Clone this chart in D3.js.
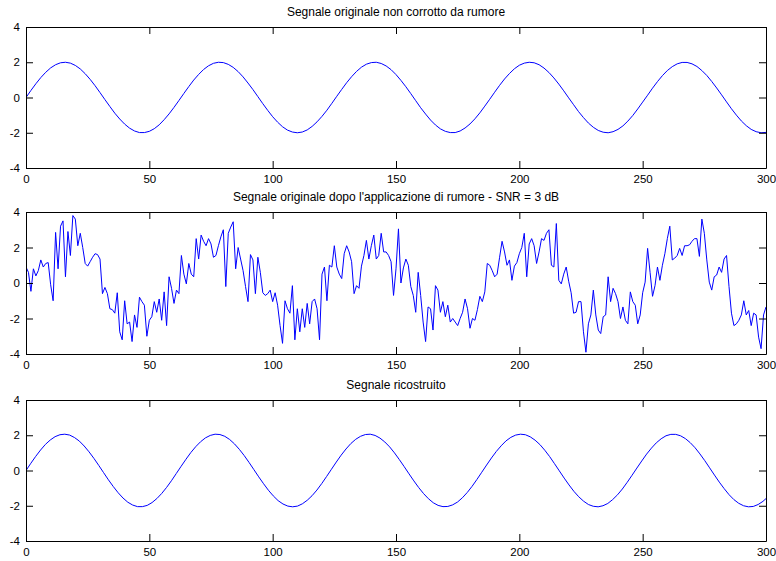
<!DOCTYPE html>
<html><head><meta charset="utf-8">
<script src="https://cdn.jsdelivr.net/npm/d3@7"></script>
<style>
body{margin:0;background:#fff}
svg{display:block}
text{font-family:"Liberation Sans",Arial,Helvetica,sans-serif}
</style>
</head><body><svg id="c" width="776" height="561"></svg>
<script>
// ---- data ----
const xTicks = [0, 50, 100, 150, 200, 250, 300];
const yTicks = [-4, -2, 0, 2, 4];
const titles = [
  "Segnale originale non corrotto da rumore",
  "Segnale originale dopo l'applicazione di rumore - SNR = 3 dB",
  "Segnale ricostruito"
];
// original clean signal, one sample every 2 units of x
const originalStep = 2;
const original = [
  0.00,0.40,0.78,1.13,1.43,1.68,1.86,1.97,2.00,1.95,1.82,1.62,1.35,1.03,0.67,0.28,-0.12,-0.51,-0.89,-1.22,-1.51,-1.74,-1.90,-1.99,-1.99,-1.92,-1.77,-1.55,-1.26,-0.93,-0.56,-0.17,
  0.23,0.62,0.99,1.31,1.59,1.80,1.94,2.00,1.98,1.88,1.71,1.47,1.17,0.82,0.45,0.05,-0.35,-0.73,-1.09,-1.40,-1.66,-1.85,-1.96,-2.00,-1.96,-1.84,-1.64,-1.38,-1.07,-0.72,-0.33,
  0.07,0.46,0.84,1.18,1.48,1.72,1.89,1.98,2.00,1.93,1.79,1.58,1.30,0.97,0.61,0.22,-0.18,-0.58,-0.94,-1.28,-1.56,-1.78,-1.92,-1.99,-1.99,-1.90,-1.73,-1.50,-1.21,-0.87,-0.49,-0.10,
  0.30,0.69,1.05,1.36,1.63,1.83,1.95,2.00,1.97,1.86,1.67,1.42,1.11,0.76,0.38,-0.02,-0.41,-0.80,-1.14,-1.45,-1.69,-1.87,-1.97,-2.00,-1.94,-1.81,-1.61,-1.34,-1.02,-0.65,-0.26,
  0.13,0.53,0.90,1.24,1.53,1.75,1.91,1.99,1.99,1.91,1.76,1.53,1.25,0.91,0.54,0.15,-0.25,-0.64,-1.00,-1.33,-1.60,-1.81,-1.94,-2.00,-1.98
];
// noisy signal, one sample per unit of x
const noisyStep = 1;
const noisy = [
  0.9,0.6,-0.47,0.8,0.4,0.7,1.3,0.9,1.1,1.15,
  -0.1,-1.0,2.85,0.8,3.2,3.5,0.35,2.9,1.55,3.8,
  3.6,2.1,2.8,2.0,1.1,0.95,1.2,1.45,1.65,1.6,
  1.35,-0.6,-0.25,-0.6,-1.45,-1.5,-1.7,-0.55,-2.75,-3.2,
  -1.0,-2.3,-2.2,-3.3,-1.8,-2.5,-0.8,-1.05,-1.25,-3.0,
  -2.1,-1.9,-1.05,-1.65,-0.9,-2.1,-0.5,-2.4,0.35,-0.3,
  -1.15,-0.4,-0.6,1.55,0.5,-0.05,1.1,0.5,0.35,2.5,
  1.35,2.7,2.35,2.1,2.5,2.2,1.45,1.55,2.1,2.6,
  3.0,-0.2,2.8,3.15,3.45,0.8,2.0,1.35,0.7,-0.2,
  -1.05,1.6,1.3,-0.6,1.45,0.6,-0.55,-0.7,-0.6,-0.4,
  -1.05,-0.55,-1.25,-2.4,-3.4,-1.0,-1.45,-1.7,-0.15,-3.2,
  -1.45,-2.75,-1.45,-2.5,-1.15,-2.3,-1.05,-0.9,-1.45,-3.2,
  0.5,0.9,-1.0,1.0,0.9,2.1,0.9,0.5,0.25,1.65,
  2.1,1.75,1.2,-0.6,-0.15,-0.3,0.95,1.55,2.4,1.35,
  2.1,2.7,1.35,1.55,2.8,1.75,1.75,1.55,1.2,-0.7,
  0.8,3.05,0.0,0.85,1.35,1.0,-0.2,-0.7,-1.65,0.6,
  -0.7,-2.2,-3.3,-1.35,-1.45,-2.65,-0.15,-0.4,-1.65,-1.05,
  -1.9,-1.25,-2.2,-2.0,-2.2,-2.4,-2.0,-1.65,-0.9,-1.45,
  -2.55,-2.0,-2.1,-1.5,-0.75,-1.05,-0.5,1.1,1.0,0.7,
  0.35,0.5,1.45,2.35,1.75,1.0,1.3,0.15,0.95,1.15,
  1.65,2.0,2.8,0.35,2.2,2.5,2.1,1.1,1.75,2.5,
  2.4,2.8,3.0,1.0,0.9,3.35,0.15,-0.05,0.5,0.9,
  0.1,-0.55,-1.7,-1.65,-1.05,-1.05,-2.75,-3.9,-2.3,-1.8,
  -0.4,-1.8,-2.65,-2.85,-1.9,-1.8,0.35,-1.05,-0.3,-0.6,
  -1.05,-2.0,-1.35,-2.1,-2.3,-0.5,-1.05,-1.25,-2.3,-1.8,
  -0.55,0.05,1.95,0.6,-0.75,-0.15,0.9,0.15,1.0,1.65,
  2.5,3.2,1.3,1.4,1.55,1.95,1.55,2.1,2.1,2.15,
  2.35,2.5,2.5,1.5,3.6,2.8,1.3,0.05,-0.4,0.35,
  0.45,0.9,0.6,1.35,1.55,-0.2,-1.7,-2.4,-2.3,-2.1,
  -1.8,-1.0,-1.8,-1.55,-2.4,-1.7,-1.8,-3.05,-3.7,-1.8,
  -1.35
];
// reconstructed signal, one sample every 1.9656 units of x
const reconStep = 1.965575;
const recon = [
  0.00,0.41,0.80,1.16,1.48,1.73,1.92,2.03,2.06,2.01,1.87,1.67,1.39,1.06,0.69,0.29,-0.12,-0.53,-0.91,-1.26,-1.56,-1.80,-1.96,-2.05,-2.05,-1.98,-1.82,-1.59,-1.30,-0.96,-0.58,-0.17,
  0.24,0.64,1.02,1.35,1.63,1.85,1.99,2.06,2.04,1.94,1.76,1.51,1.20,0.85,0.46,0.05,-0.36,-0.75,-1.12,-1.44,-1.71,-1.90,-2.02,-2.06,-2.02,-1.89,-1.69,-1.43,-1.11,-0.74,-0.34,
  0.07,0.48,0.87,1.22,1.53,1.77,1.94,2.04,2.06,1.99,1.84,1.62,1.34,1.00,0.62,0.22,-0.19,-0.59,-0.97,-1.31,-1.60,-1.83,-1.98,-2.05,-2.04,-1.95,-1.79,-1.55,-1.25,-0.90,-0.51,-0.10,
  0.31,0.71,1.08,1.40,1.68,1.88,2.01,2.06,2.03,1.91,1.72,1.47,1.15,0.79,0.39,-0.02,-0.43,-0.82,-1.18,-1.49,-1.74,-1.93,-2.03,-2.06,-2.00,-1.87,-1.65,-1.38,-1.05,-0.67,-0.27,
  0.14,0.54,0.93,1.27,1.57,1.80,1.97,2.05,2.05,1.97,1.81,1.58,1.29,0.94,0.56,0.15,-0.26,-0.66,-1.03,-1.37,-1.65,-1.86,-2.00,-2.06,-2.04,-1.93,-1.75,-1.50
];

// ---- drawing ----
const svg = d3.select("#c");
const left = 26, right = 766;
const panels = [
  {top: 27,  bottom: 168, values: original, step: originalStep, title: titles[0]},
  {top: 212, bottom: 354, values: noisy,    step: noisyStep,    title: titles[1]},
  {top: 400, bottom: 541, values: recon,    step: reconStep,    title: titles[2]}
];
const tickLen = 7;
const fmt = d => String(d);   // plain hyphen-minus like the original

panels.forEach((p, i) => {
  const x = d3.scaleLinear().domain([0, 300]).range([left, right]);
  const y = d3.scaleLinear().domain([-4, 4]).range([p.bottom, p.top]);
  const g = svg.append("g");

  const clipId = "clip" + i;
  svg.append("clipPath").attr("id", clipId)
    .append("rect").attr("x", left).attr("y", p.top)
    .attr("width", right - left).attr("height", p.bottom - p.top);

  const line = d3.line().x((d, j) => x(j * p.step)).y(d => y(d));
  g.append("path").datum(p.values)
    .attr("clip-path", `url(#${clipId})`)
    .attr("fill", "none").attr("stroke", "#0000ff").attr("stroke-width", 1)
    .attr("d", line);

  const styleAxis = sel => {
    sel.selectAll("path.domain").attr("stroke", "#000");
    sel.selectAll(".tick line").attr("stroke", "#000");
    sel.selectAll("text").attr("font-family", '"Liberation Sans",Arial,sans-serif')
      .attr("font-size", 11.5).attr("fill", "#000");
  };

  g.append("g").attr("transform", `translate(0,${p.bottom})`)
    .call(d3.axisBottom(x).tickValues(xTicks).tickFormat(fmt)
      .tickSizeInner(-tickLen).tickSizeOuter(0).tickPadding(7))
    .call(styleAxis);
  g.append("g").attr("transform", `translate(0,${p.top})`)
    .call(d3.axisTop(x).tickValues(xTicks).tickFormat("")
      .tickSizeInner(-tickLen).tickSizeOuter(0))
    .call(styleAxis);
  g.append("g").attr("transform", `translate(${left},0)`)
    .call(d3.axisLeft(y).tickValues(yTicks).tickFormat(fmt)
      .tickSizeInner(-tickLen).tickSizeOuter(0).tickPadding(6))
    .call(styleAxis);
  g.append("g").attr("transform", `translate(${right},0)`)
    .call(d3.axisRight(y).tickValues(yTicks).tickFormat("")
      .tickSizeInner(-tickLen).tickSizeOuter(0))
    .call(styleAxis);

  g.append("text").attr("x", (left + right) / 2).attr("y", p.top - 11)
    .attr("text-anchor", "middle").attr("font-size", 12).attr("fill", "#000")
    .text(p.title);
});
</script>
</body></html>
